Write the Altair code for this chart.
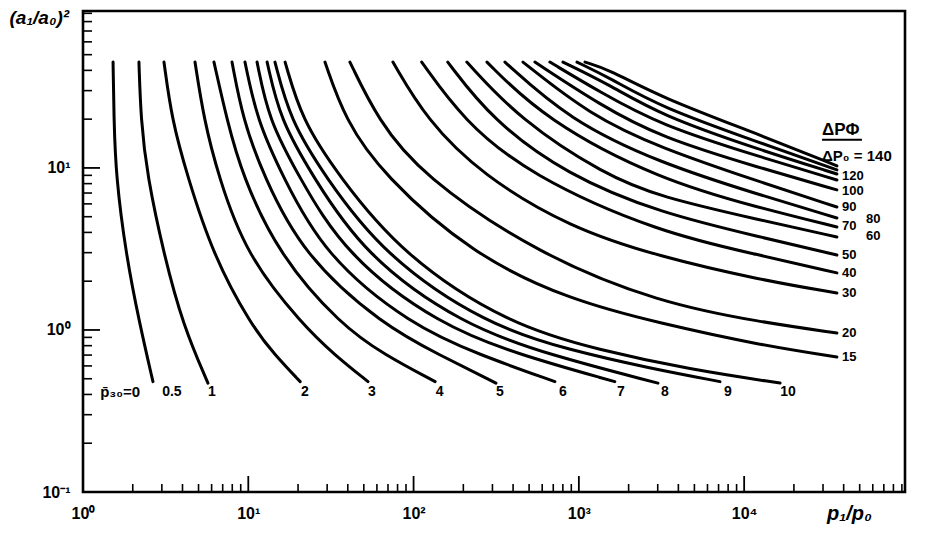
import altair as alt
import pandas as pd

# ---- curves labelled by p30 (end near the bottom) ----
p0_x = [1.52, 1.54, 1.58, 1.82, 2.21, 2.65]
p0_y = [45, 19.8, 9.05, 2.90, 1.07, 0.48]
p1_x = [2.18, 2.24, 2.44, 3.09, 4.03, 5.70]
p1_y = [45, 19.8, 9.05, 2.90, 1.07, 0.47]
p2_x = [3.09, 3.45, 4.26, 6.11, 10.4, 14.5, 20.6]
p2_y = [45, 19.8, 9.05, 2.90, 1.07, 0.70, 0.48]
p3_x = [4.76, 5.40, 6.56, 9.68, 21.4, 33.4, 53.0]
p3_y = [45, 19.8, 9.05, 2.90, 1.07, 0.70, 0.48]
p4_x = [6.20, 7.43, 9.16, 15.3, 36.4, 67.1, 135]
p4_y = [45, 19.8, 9.05, 2.90, 1.07, 0.70, 0.48]
p5_x = [7.97, 9.29, 12.3, 21.4, 65.3, 144, 315]
p5_y = [45, 19.8, 9.05, 2.90, 1.07, 0.70, 0.47]
p6_x = [9.55, 11.3, 16.0, 28.7, 96.4, 252, 716]
p6_y = [45, 19.8, 9.05, 2.90, 1.07, 0.70, 0.48]
p7_x = [11.3, 13.3, 20.0, 38.5, 144, 440, 1650]
p7_y = [45, 19.8, 9.05, 2.90, 1.07, 0.70, 0.48]
p8_x = [13.0, 15.6, 24.3, 50.1, 199, 668, 3010]
p8_y = [45, 19.8, 9.05, 2.90, 1.07, 0.70, 0.47]
p9_x = [14.5, 17.9, 28.7, 65.3, 278, 883, 2690, 7140]
p9_y = [45, 19.8, 9.05, 2.90, 1.07, 0.75, 0.58, 0.48]
p10_x = [16.7, 21.1, 34.9, 85.1, 383, 1340, 4700, 16500]
p10_y = [45, 19.8, 9.05, 2.90, 1.07, 0.75, 0.57, 0.47]

# ---- curves labelled by dPf/dP0 (end at the right) ----
r15_x = [29.1, 38.5, 65.3, 229, 883, 3096, 12470, 36400]
r15_y = [45, 19.8, 9.05, 2.90, 1.53, 1.10, 0.807, 0.681]
r20_x = [41.2, 60.9, 111, 574, 3096, 12470, 36400]
r20_y = [45, 19.8, 9.05, 2.90, 1.47, 1.12, 0.958]
r30_x = [75.0, 120, 259, 883, 3096, 12470, 36400]
r30_y = [45, 19.8, 9.05, 4.27, 2.83, 2.04, 1.69]
r40_x = [112, 199, 499, 3096, 12470, 36400]
r40_y = [45, 19.8, 9.05, 3.97, 2.90, 2.25]
r50_x = [161, 298, 847, 3096, 12470, 36400]
r50_y = [45, 19.8, 9.05, 5.27, 3.75, 2.90]
r60_x = [210, 440, 1439, 3096, 12470, 36400]
r60_y = [45, 19.8, 9.05, 6.62, 4.77, 3.75]
r70_x = [278, 624, 3096, 12470, 36400]
r70_y = [45, 19.8, 8.43, 5.66, 4.32]
r80_x = [357, 871, 3096, 12470, 36400]
r80_y = [45, 19.8, 10.7, 6.81, 4.91]
r90_x = [459, 1167, 3096, 12470, 36400]
r90_y = [45, 21.2, 13.3, 8.20, 5.74]
r100_x = [542, 1342, 3096, 12470, 36400]
r100_y = [45, 24.5, 15.5, 10.0, 7.32]
r110_x = [668, 1342, 3096, 12470, 36400]
r110_y = [45, 29.4, 18.4, 11.7, 8.43]
r115_x = [801, 1542, 3096, 12470, 36400]
r115_y = [45, 32.5, 21.2, 12.9, 9.18]
r120_x = [974, 1542, 3096, 12470, 36400]
r120_y = [45, 35.9, 23.8, 14.3, 9.72]
r140_x = [1089, 1542, 3096, 12470, 36400]
r140_y = [45, 40.3, 27.4, 16.0, 10.3]

curves = [
    ("p0", p0_x, p0_y), ("p1", p1_x, p1_y), ("p2", p2_x, p2_y),
    ("p3", p3_x, p3_y), ("p4", p4_x, p4_y), ("p5", p5_x, p5_y),
    ("p6", p6_x, p6_y), ("p7", p7_x, p7_y), ("p8", p8_x, p8_y),
    ("p9", p9_x, p9_y), ("p10", p10_x, p10_y),
    ("r15", r15_x, r15_y), ("r20", r20_x, r20_y), ("r30", r30_x, r30_y),
    ("r40", r40_x, r40_y), ("r50", r50_x, r50_y), ("r60", r60_x, r60_y),
    ("r70", r70_x, r70_y), ("r80", r80_x, r80_y), ("r90", r90_x, r90_y),
    ("r100", r100_x, r100_y), ("r110", r110_x, r110_y),
    ("r115", r115_x, r115_y), ("r120", r120_x, r120_y),
    ("r140", r140_x, r140_y),
]

# ---- curve labels ----
bottom_text = ["0.5", "1", "2", "3", "4", "5", "6", "7", "8", "9", "10"]
bottom_x = [3.45, 6.03, 22.0, 56.0, 144, 333, 801, 1798, 3319, 7980, 18400]
bottom_y = [0.414] * 11

right_text = ["120", "100", "90", "80", "70", "60", "50", "40", "30", "20", "15"]
right_x = [39100, 39100, 39100, 54600, 39100, 54600, 39100, 39100, 39100, 39100, 39100]
right_y = [8.93, 7.21, 5.74, 4.84, 4.39, 3.80, 2.90, 2.25, 1.69, 0.958, 0.681]

# axis ticks
x_major = [1, 10, 100, 1000, 10000]
x_major_labels = ["10⁰", "10¹", "10²", "10³", "10⁴"]
y_major = [0.1, 1, 10]
y_major_labels = ["10⁻¹", "10⁰", "10¹"]
x_minor = [m * 10 ** e for e in range(0, 5) for m in range(2, 10)]
y_minor = [m * 10.0 ** e for e in range(-1, 2) for m in range(2, 10) if m * 10.0 ** e < 93]

rows = []
for name, xs_, ys_ in curves:
    for i, (a, b) in enumerate(zip(xs_, ys_)):
        rows.append({"curve": name, "x": a, "y": b, "i": i})
df = pd.DataFrame(rows)


def expr(vals, labels):
    parts = " : ".join(f"datum.value == {v} ? '{l}'" for v, l in zip(vals, labels))
    return parts + " : ''"


FONT = "Liberation Sans"
W, H = 822, 481

xs = alt.Scale(type="log", domain=[1, 94000], nice=False)
ys = alt.Scale(type="log", domain=[0.1, 93], nice=False)

xaxis = alt.Axis(values=x_major, labelExpr=expr(x_major, x_major_labels), ticks=False,
                 domain=False, grid=False, labelPadding=13, labelFontSize=16,
                 labelFont=FONT, labelFontWeight="bold", labelColor="black",
                 labelFlush=False, labelOverlap=False,
                 title="p₁/p₀", titleX=766, titleY=21, titleAngle=0, titleAlign="center",
                 titleBaseline="middle", titleFontSize=20, titleFontStyle="italic",
                 titleFontWeight="bold", titleFont=FONT, titleColor="black")
yaxis = alt.Axis(values=y_major, labelExpr=expr(y_major, y_major_labels), ticks=False,
                 domain=False, grid=False, labelPadding=13, labelFontSize=16,
                 labelFont=FONT, labelFontWeight="bold", labelColor="black",
                 labelFlush=False, labelOverlap=False,
                 title="(a₁/a₀)²", titleX=-74, titleY=6, titleAngle=0, titleAlign="left",
                 titleBaseline="middle", titleFontSize=19, titleFontStyle="italic",
                 titleFontWeight="bold", titleFont=FONT, titleColor="black")

X = alt.X("x:Q", scale=xs, axis=xaxis)
Y = alt.Y("y:Q", scale=ys, axis=yaxis)

lines = alt.Chart(df).mark_line(color="black", strokeWidth=3, interpolate="basis",
                                strokeCap="round", clip=True).encode(
    x=X, y=Y, detail="curve:N", order="i:Q")

bot = alt.Chart(pd.DataFrame({"x": bottom_x, "y": bottom_y, "t": bottom_text})).mark_text(
    font=FONT, fontSize=14, fontWeight="bold", align="center", baseline="middle",
    color="black").encode(x=X, y=Y, text="t:N")

p30 = alt.Chart(pd.DataFrame({"x": [1.27], "y": [0.414], "t": ["p̄₃₀=0"]})).mark_text(
    font=FONT, fontSize=15, fontWeight="bold", align="left", baseline="middle",
    color="black").encode(x=X, y=Y, text="t:N")

right = alt.Chart(pd.DataFrame({"x": right_x, "y": right_y, "t": right_text})).mark_text(
    font=FONT, fontSize=13, fontWeight="bold", align="left", baseline="middle",
    color="black").encode(x=X, y=Y, text="t:N")

head1 = alt.Chart(pd.DataFrame({"x": [29600], "y": [17.2], "t": ["ΔPΦ"]})).mark_text(
    font=FONT, fontSize=17, fontWeight="bold", align="left", baseline="middle",
    color="black").encode(x=X, y=Y, text="t:N")
head2 = alt.Chart(pd.DataFrame({"x": [29600], "y": [11.9], "t": ["ΔP₀ = 140"]})).mark_text(
    font=FONT, fontSize=15, fontWeight="bold", align="left", baseline="middle",
    color="black").encode(x=X, y=Y, text="t:N")
frac = alt.Chart(pd.DataFrame({"x": [29600], "x2": [51600], "y": [14.9]})).mark_rule(
    color="black", strokeWidth=2).encode(x=X, x2="x2:Q", y=Y)

xt_minor = alt.Chart(pd.DataFrame({"x": x_minor})).mark_rule(
    color="black", strokeWidth=1.6).encode(x=X, y=alt.value(H), y2=alt.value(H - 8))
xt_major = alt.Chart(pd.DataFrame({"x": x_major})).mark_rule(
    color="black", strokeWidth=1.8).encode(x=X, y=alt.value(H), y2=alt.value(H - 16))
yt_minor = alt.Chart(pd.DataFrame({"y": y_minor})).mark_rule(
    color="black", strokeWidth=1.6).encode(y=Y, x=alt.value(0), x2=alt.value(9))
yt_major = alt.Chart(pd.DataFrame({"y": y_major})).mark_rule(
    color="black", strokeWidth=1.8).encode(y=Y, x=alt.value(0), x2=alt.value(17))

chart = alt.layer(lines, xt_minor, xt_major, yt_minor, yt_major, bot, p30, right,
                  head1, head2, frac).properties(
    width=W, height=H,
    padding={"left": 75, "top": 3, "right": 10, "bottom": 36},
    autosize=alt.AutoSizeParams(type="none"),
    background="white",
).configure_view(stroke="black", strokeWidth=2.6)

chart.save("out.html", embed_options={"renderer": "svg", "actions": False})
